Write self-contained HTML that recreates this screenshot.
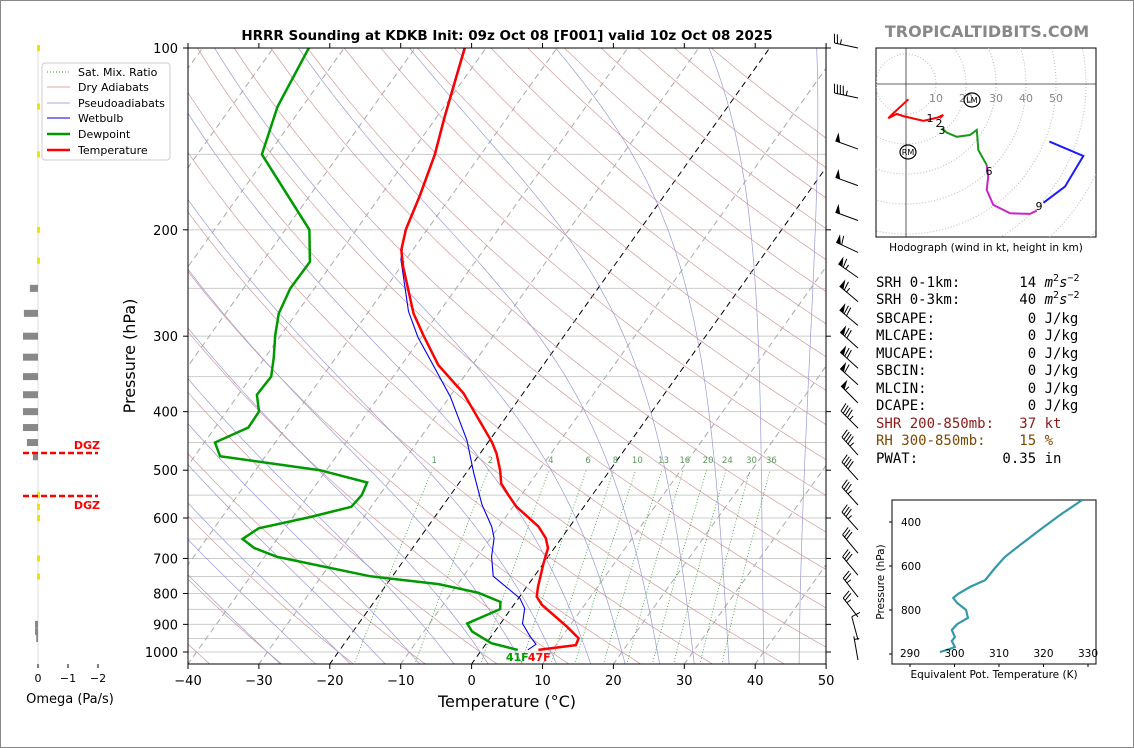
<!DOCTYPE html>
<html><head><meta charset="utf-8"><style>
html,body{margin:0;padding:0;background:#fff;}
svg{display:block;font-family:"DejaVu Sans","Liberation Sans",sans-serif;}
.mono{font-family:"DejaVu Sans Mono","Liberation Mono",monospace;font-size:14px;}
</style></head><body>
<svg id="fig" width="1134" height="748" viewBox="0 0 1134 748" xmlns="http://www.w3.org/2000/svg">
<rect x="0.5" y="0.5" width="1133" height="747" fill="#fff" stroke="#888"/>
<defs><clipPath id="pc"><rect x="188" y="48" width="638" height="616"/></clipPath>
<clipPath id="hc"><rect x="876" y="48" width="220" height="189"/></clipPath>
<clipPath id="tc"><rect x="892" y="500" width="204" height="164"/></clipPath></defs>
<text x="507" y="40" text-anchor="middle" font-size="13.5" font-weight="bold">HRRR Sounding at KDKB Init: 09z Oct 08 [F001] valid 10z Oct 08 2025</text>
<text x="987" y="37" text-anchor="middle" font-size="16" font-weight="bold" fill="#888">TROPICALTIDBITS.COM</text>
<g id="bg" clip-path="url(#pc)"></g>
<g id="marks" clip-path="url(#pc)"></g>
<g id="axes"></g>
<g id="barbs"></g>
<g id="omega"></g>
<g id="hodo"></g>
<g id="thetae"></g>
<g>
<rect x="42" y="63" width="128" height="97" rx="3" fill="#fff" stroke="#ccc"/>
<line x1="47" y1="72" x2="70" y2="72" stroke="#3a9a3a" stroke-dasharray="1,2"/><text x="78" y="76" font-size="11">Sat. Mix. Ratio</text>
<line x1="47" y1="87" x2="70" y2="87" stroke="#d8a8a8"/><text x="78" y="91" font-size="11">Dry Adiabats</text>
<line x1="47" y1="103" x2="70" y2="103" stroke="#aaaad8"/><text x="78" y="107" font-size="11">Pseudoadiabats</text>
<line x1="47" y1="118" x2="70" y2="118" stroke="#0000cc"/><text x="78" y="122" font-size="11">Wetbulb</text>
<line x1="47" y1="134" x2="70" y2="134" stroke="#009900" stroke-width="2.5"/><text x="78" y="138" font-size="11">Dewpoint</text>
<line x1="47" y1="150" x2="70" y2="150" stroke="#ff0000" stroke-width="2.5"/><text x="78" y="154" font-size="11">Temperature</text>
</g>
<g class="mono">
<text x="876" y="287" xml:space="preserve">SRH 0-1km:       14 <tspan font-style="italic">m</tspan><tspan font-size="10" dy="-6">2</tspan><tspan font-style="italic" dy="6">s</tspan><tspan font-size="10" dy="-6">−2</tspan></text>
<text x="876" y="304" xml:space="preserve">SRH 0-3km:       40 <tspan font-style="italic">m</tspan><tspan font-size="10" dy="-6">2</tspan><tspan font-style="italic" dy="6">s</tspan><tspan font-size="10" dy="-6">−2</tspan></text>
<text x="876" y="323" xml:space="preserve">SBCAPE:           0 J/kg</text>
<text x="876" y="340" xml:space="preserve">MLCAPE:           0 J/kg</text>
<text x="876" y="358" xml:space="preserve">MUCAPE:           0 J/kg</text>
<text x="876" y="375" xml:space="preserve">SBCIN:            0 J/kg</text>
<text x="876" y="393" xml:space="preserve">MLCIN:            0 J/kg</text>
<text x="876" y="410" xml:space="preserve">DCAPE:            0 J/kg</text>
<text x="876" y="428" fill="#8b1a1a" xml:space="preserve">SHR 200-850mb:   37 kt</text>
<text x="876" y="445" fill="#7a4a00" xml:space="preserve">RH 300-850mb:    15 %</text>
<text x="876" y="463" xml:space="preserve">PWAT:          0.35 in</text>
</g>
<script>
var NS='http://www.w3.org/2000/svg';
// ---- sounding data ----
var tempP=[992,974,949,908,836,810,780,713,673,648,620,575,550,526,500,469,449,373,335,299,275,230,216,200,175,150,130,100];
var tempT=[8.0,12.8,12.5,9.7,4.0,2.4,1.6,0.0,-0.9,-2.2,-4.4,-9.5,-11.8,-14.0,-15.5,-17.7,-19.5,-28.4,-34.8,-39.9,-43.5,-49.7,-51.6,-53.0,-54.5,-56.5,-58.9,-63.0];
var dewP=[992,967,925,897,849,826,798,772,749,696,673,650,624,598,575,550,524,500,474,450,425,400,375,350,325,299,275,250,226,200,150,125,100];
var dewT=[5.1,0.7,-3.2,-4.7,-1.5,-2.2,-6.2,-12.7,-23.2,-38.2,-42.3,-44.9,-43.7,-37.6,-32.8,-32.5,-33.0,-40.9,-56.4,-58.5,-55.3,-55.4,-57.4,-57.2,-58.8,-60.8,-62.5,-63.4,-63.3,-66.6,-80.9,-83.5,-85.0];
var wbP=[992,971,943,897,847,815,749,695,648,620,570,506,446,378,301,273,224,200,175,150,130,100];
var wbT=[6.5,7.1,5.5,3.1,1.9,0.2,-5.8,-8.0,-9.5,-11.0,-14.6,-18.9,-23.2,-29.9,-40.5,-44.4,-50.7,-53.1,-54.6,-56.6,-59.0,-63.1];
var barbP=[100,121,147,169,193,218,240,263,288,314,339,361,387,426,472,519,571,628,686,746,811,875,955,1031];
var barbSpd=[25,45,50,50,50,60,65,65,70,70,70,60,55,45,45,40,35,35,30,30,25,25,10,5];
var barbDir=[282,282,290,290,290,295,305,310,310,312,312,312,315,315,318,318,318,318,320,320,322,322,345,350];
var omegaP=[250,275,300,325,350,375,400,425,450,475,900,925,950];
var omegaV=[0.27,0.47,0.5,0.5,0.5,0.5,0.5,0.5,0.37,0.17,0.1,0.1,0.06];
var omegaYP=[100,125,150,200,225,550,575,600,700,750];
var xTicks=[-40,-30,-20,-10,0,10,20,30,40,50];
var pTicks=[100,200,300,400,500,600,700,800,900,1000];
var mixW=[1,2,4,6,8,10,13,16,20,24,30,36];
var hodoRedU=[0.8,-4.8,-5.9,-3.1,-0.9,5.8,8,10.8,12.4,11.3];
var hodoRedV=[-5.1,-10.3,-11.4,-10,-10.7,-12.3,-11.8,-11.1,-10.3,-11.4];
var hodoGreenU=[11.9,13.6,16.9,21.3,23.6,24.1,26.9];
var hodoGreenV=[-14.8,-16.2,-17.6,-17,-15.3,-22,-27];
var hodoMagU=[26.9,27.4,26.9,29.1,34.7,41.3,43.6];
var hodoMagV=[-27,-30.9,-35.3,-40.3,-43.1,-43.3,-42.2];
var hodoBlueU=[45.8,53,59.1,47.8];
var hodoBlueV=[-39.6,-34.2,-24,-19.2];
var thetaE=[328.7,323.7,319.2,314.7,311.3,309.1,306.9,303.5,300.8,299.7,300.6,302.6,303.0,300.6,299.4,300.1,299.4,300.1,298.3,296.7];
var thetaEP=[300,368,436,505,559,609,664,695,727,745,768,800,836,864,891,923,941,968,982,991];
var thetaTicks=[290,300,310,320,330];
var thetaPTicks=[400,600,800,1000];

function el(tag,attrs,parent){var e=document.createElementNS(NS,tag);for(var k in attrs)e.setAttribute(k,attrs[k]);parent.appendChild(e);return e;}
function Y(p){return 48+604*Math.log10(p/100);}
function X(T,p){return 188+7.09*(T+40)+0.714*(664-Y(p));}
function pts(Ts,Ps){return Ts.map(function(t,i){return X(t,Ps[i]).toFixed(1)+','+Y(Ps[i]).toFixed(1);}).join(' ');}
var bg=document.getElementById('bg'),mk=document.getElementById('marks'),ax=document.getElementById('axes');
// isobars
for(var p=100;p<=1050;p+=50){var l=el('line',{x1:188,x2:826,y1:Y(p),y2:Y(p),stroke:'#ccc','stroke-width':1},bg);}
// isotherms
for(var T=-140;T<=50;T+=10){var blk=(T===0||T===-20);var l=el('line',{x1:X(T,1050),y1:Y(1050),x2:X(T,100),y2:Y(100),stroke:blk?'#000':'#aaa','stroke-width':1,'stroke-dasharray':'6,4'},bg);}
// dry adiabats
for(var t0=-40;t0<=200;t0+=10){var a=[];for(var p=1050;p>=100;p-=10){var T=(t0+273.15)*Math.pow(p/1000,0.286)-273.15;a.push(X(T,p).toFixed(1)+','+Y(p).toFixed(1));}var l=el('polyline',{points:a.join(' '),fill:'none',stroke:'#d49a9a','stroke-width':0.7},bg);}
// moist adiabats
function es(T){return 6.112*Math.exp(17.67*T/(T+243.5));}
for(var t0=-30;t0<=45;t0+=5){var a=[];var T=t0;var p=1000;
 var seg=function(T,p,dir){var out=[];while(p>=100&&p<=1050){out.push(X(T,p).toFixed(1)+','+Y(p).toFixed(1));var Tk=T+273.15;var rs=0.622*es(T)/(p-es(T));var dTdp=(287*Tk+2.5e6*rs)/(p*(1004+2.5e6*2.5e6*rs*0.622/(287*Tk*Tk)));var dp=dir*5;T+=dTdp*dp;p+=dp;}return out;};
 var up=seg(t0,1000,-1),dn=seg(t0,1000,1);a=dn.reverse().concat(up);
 var l=el('polyline',{points:a.join(' '),fill:'none',stroke:'#9a9ad8','stroke-width':0.7},bg);}
// mixing ratio lines
mixW.forEach(function(w){var a=[];for(var p=1050;p>=500;p-=10){var e=w*p/(622+w);var L=Math.log(e/6.112);var Td=243.5*L/(17.67-L);a.push(X(Td,p).toFixed(1)+','+Y(p).toFixed(1));}
 var l=el('polyline',{points:a.join(' '),fill:'none',stroke:'#3a9a3a','stroke-width':0.8,'stroke-dasharray':'1,2'},bg);
 var e=w*490/(622+w),L=Math.log(e/6.112),Td=243.5*L/(17.67-L);var t=el('text',{x:X(Td,490),y:Y(490)-2,'font-size':8.5,fill:'#5a9a5a','text-anchor':'middle'},bg);t.textContent=w;});
// profiles
var wl=el('polyline',{points:pts(wbT,wbP),fill:'none',stroke:'#0000ee','stroke-width':1.1},mk);
var dl=el('polyline',{points:pts(dewT,dewP),fill:'none',stroke:'#009900','stroke-width':2.5},mk);
var tl=el('polyline',{points:pts(tempT,tempP),fill:'none',stroke:'#ff0000','stroke-width':2.5},mk);
var sl=el('text',{x:X(dewT[0],dewP[0])-12,y:Y(dewP[0])+11,'font-size':11,'font-weight':'bold',fill:'#009900'},ax);sl.textContent='41F';
var sl2=el('text',{x:X(dewT[0],dewP[0])+10,y:Y(dewP[0])+11,'font-size':11,'font-weight':'bold',fill:'#ff0000'},ax);sl2.textContent='47F';
// axes frame
el('rect',{x:188,y:48,width:638,height:616,fill:'none',stroke:'#000','stroke-width':1},ax);
xTicks.forEach(function(t){var x=188+7.09*(t+40);el('line',{x1:x,x2:x,y1:664,y2:669,stroke:'#000'},ax);var tx=el('text',{x:x,y:685,'text-anchor':'middle','font-size':13},ax);tx.textContent=(t<0?'\u2212':'')+Math.abs(t);
 el('line',{x1:x,x2:x,y1:48,y2:43,stroke:'#000'},ax);});
pTicks.forEach(function(p){var y=Y(p);el('line',{x1:183,x2:188,y1:y,y2:y,stroke:'#000'},ax);el('line',{x1:826,x2:831,y1:y,y2:y,stroke:'#000'},ax);var tx=el('text',{x:178,y:y+5,'text-anchor':'end','font-size':13},ax);tx.textContent=p;});
var xt=el('text',{x:507,y:707,'text-anchor':'middle','font-size':16},ax);xt.textContent='Temperature (°C)';
var yt=el('text',{x:135,y:356,'text-anchor':'middle','font-size':16,transform:'rotate(-90 135 356)'},ax);yt.textContent='Pressure (hPa)';
// barbs
var bb=document.getElementById('barbs');
barbP.forEach(function(p,i){var y=Y(p),bx=858,d=barbDir[i]*Math.PI/180;var L=24;
 var ux=Math.sin(d),uy=-Math.cos(d);var ex=bx+ux*L,ey=y+uy*L;
 var g=el('g',{},bb);
 el('line',{x1:bx,y1:y,x2:ex,y2:ey,stroke:'#000','stroke-width':1},g);
 var s=Math.round(barbSpd[i]/5)*5,pos=0;var nx=-uy,ny=ux;// perpendicular
 var px=function(k){return [ex-ux*k,ey-uy*k];};
 while(s>=50){var a=px(pos),b=px(pos+5);el('polygon',{points:a[0]+','+a[1]+' '+(a[0]+nx*9)+','+(a[1]+ny*9)+' '+b[0]+','+b[1]},g);pos+=6;s-=50;}
 while(s>=10){var a=px(pos);el('line',{x1:a[0],y1:a[1],x2:a[0]+nx*9+ux*2,y2:a[1]+ny*9+uy*2,stroke:'#000'},g);pos+=3;s-=10;}
 if(s>=5){var a=px(pos+(pos===0?3:0));el('line',{x1:a[0],y1:a[1],x2:a[0]+nx*5,y2:a[1]+ny*5,stroke:'#000'},g);}
});
// omega panel
var om=document.getElementById('omega');
el('line',{x1:38,x2:38,y1:48,y2:664,stroke:'#ddd'},om);
omegaP.forEach(function(p,i){var w=omegaV[i]*30;var r=el('rect',{x:38-w,y:Y(p)-3.5,width:w,height:7,fill:'#888'},om);});
omegaYP.forEach(function(p){var r=el('rect',{x:37,y:Y(p)-3,width:3,height:6,fill:'#f5e000'},om);});
[0,-1,-2].forEach(function(v){var x=38-v*30;el('line',{x1:x,x2:x,y1:664,y2:668,stroke:'#000'},om);var t=el('text',{x:x,y:682,'text-anchor':'middle','font-size':11},om);t.textContent=v===0?'0':'\u2212'+Math.abs(v);});
var ot=el('text',{x:70,y:703,'text-anchor':'middle','font-size':13},om);ot.textContent='Omega (Pa/s)';
[453,496].forEach(function(y,i){el('line',{x1:23,x2:98,y1:y,y2:y,stroke:'#f00','stroke-width':2.5,'stroke-dasharray':'6,3'},om);var t=el('text',{x:100,y:i?509:449,'text-anchor':'end','font-size':11,'font-weight':'bold',fill:'#f00'},om);t.textContent='DGZ';});
// hodograph
var ho=document.getElementById('hodo');var hx=906,hy=84,hs=3;
el('rect',{x:876,y:48,width:220,height:189,fill:'#fff',stroke:'#000'},ho);
var hg=el('g',{'clip-path':'url(#hc)'},ho);
for(var r=10;r<=80;r+=10)el('circle',{cx:hx,cy:hy,r:r*hs,fill:'none',stroke:'#bbb','stroke-dasharray':'1,2'},hg);
el('line',{x1:hx,x2:hx,y1:48,y2:237,stroke:'#333','stroke-width':0.8},hg);el('line',{x1:876,x2:1096,y1:hy,y2:hy,stroke:'#333','stroke-width':0.8},hg);
[10,20,30,40,50].forEach(function(r){var t=el('text',{x:hx+r*hs,y:102,'text-anchor':'middle','font-size':11,fill:'#888'},hg);t.textContent=r;});
function hp(U,V){return U.map(function(u,i){return (hx+u*hs).toFixed(1)+','+(hy-V[i]*hs).toFixed(1);}).join(' ');}
[[hodoRedU,hodoRedV,'#f00','hodo-0-3km'],[hodoGreenU,hodoGreenV,'#1a9a1a','hodo-3-6km'],[hodoMagU,hodoMagV,'#cc22cc','hodo-6-9km'],[hodoBlueU,hodoBlueV,'#1a1aff','hodo-9-12km']].forEach(function(s){var l=el('polyline',{points:hp(s[0],s[1]),fill:'none',stroke:s[2],'stroke-width':2},hg);});
[['1',930,122],['2',939,127],['3',942,134],['6',989,175],['9',1039,210]].forEach(function(a){var t=el('text',{x:a[1],y:a[2],'text-anchor':'middle','font-size':11},hg);t.textContent=a[0];});
[['LM',972,100],['RM',908,152]].forEach(function(a){el('ellipse',{cx:a[1],cy:a[2],rx:8,ry:7,fill:'none',stroke:'#000','stroke-width':1.2},hg);var t=el('text',{x:a[1],y:a[2]+3,'text-anchor':'middle','font-size':8},hg);t.textContent=a[0];});
var hl=el('text',{x:986,y:251,'text-anchor':'middle','font-size':10.5},ho);hl.textContent='Hodograph (wind in kt, height in km)';
// theta-e inset
var te=document.getElementById('thetae');
function TX(t){return 910+(t-290)*4.45;} function TY(p){return 522+(p-400)*0.22;}
el('rect',{x:892,y:500,width:204,height:164,fill:'#fff',stroke:'#000'},te);
var tg=el('g',{'clip-path':'url(#tc)'},te);
var tline=el('polyline',{points:thetaE.map(function(t,i){return TX(t).toFixed(1)+','+TY(thetaEP[i]).toFixed(1);}).join(' '),fill:'none',stroke:'#3399aa','stroke-width':2.2},tg);
thetaTicks.forEach(function(t){var x=TX(t);el('line',{x1:x,x2:x,y1:664,y2:667,stroke:'#000'},te);var tx=el('text',{x:x,y:657,'text-anchor':'middle','font-size':10.5},te);tx.textContent=t;});
thetaPTicks.forEach(function(p){var y=TY(p);el('line',{x1:889,x2:892,y1:y,y2:y,stroke:'#000'},te);var tx=el('text',{x:901,y:y+4,'font-size':10.5},te);tx.textContent=p===1000?'':p;});
var tx1=el('text',{x:994,y:678,'text-anchor':'middle','font-size':10.5},te);tx1.textContent='Equivalent Pot. Temperature (K)';
var ty1=el('text',{x:884,y:582,'text-anchor':'middle','font-size':10.5,transform:'rotate(-90 884 582)'},te);ty1.textContent='Pressure (hPa)';
</script>
</svg>
</body></html>
